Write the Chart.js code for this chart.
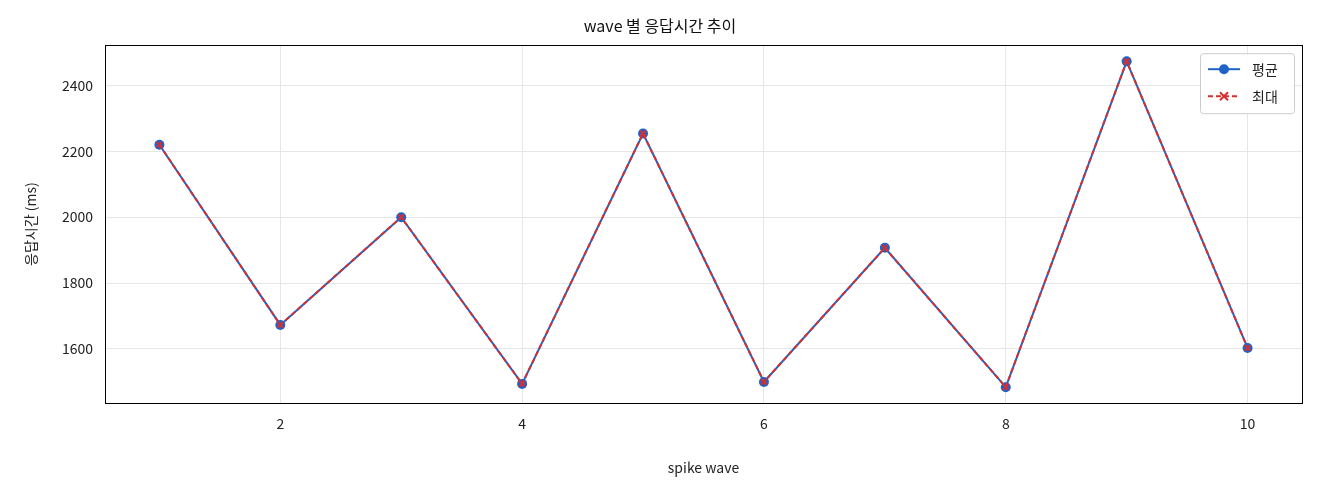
<!DOCTYPE html>
<html><head><meta charset="utf-8">
<script src="https://cdn.jsdelivr.net/npm/chart.js@4/dist/chart.umd.min.js"></script>
<style>html,body{margin:0;background:#fff}#w{width:1320px;height:480px}</style>
</head><body><div id="w"><canvas id="c" width="1320" height="480"></canvas></div>
<script>
const waves = [1,2,3,4,5,6,7,8,9,10];
const avgVals = [2220,1673,2000,1494,2254,1500,1907,1484,2473,1603];
const maxVals = [2220,1673,2000,1494,2254,1500,1907,1484,2473,1603];
const xTicks = [2,4,6,8,10];
const yTicks = [1600,1800,2000,2200,2400];
const F = "'Noto Sans CJK KR','Noto Sans',sans-serif";
const BLUE = '#1f63c6', RED = '#d62f2f';
const legendPlugin = {
  id:'lg',
  afterDraw(ch){
    const c=ch.ctx, a=ch.chartArea;
    c.save();
    c.strokeStyle='#000';c.lineWidth=1;
    c.strokeRect(Math.round(a.left)+0.5,Math.round(a.top)+0.5,Math.round(a.right-a.left),Math.round(a.bottom-a.top));
    const w=94,h=60,x=a.right-w-8,y=a.top+8;
    c.fillStyle='rgba(255,255,255,0.9)';c.strokeStyle='#ccc';
    c.beginPath();c.roundRect(x+0.5,y+0.5,w,h,3);c.fill();c.stroke();
    const items=[{t:'평균',col:BLUE,dash:[],m:'o'},{t:'최대',col:RED,dash:[5,3],m:'x'}];
    items.forEach((it,i)=>{
      const yy=y+16+i*27;
      c.strokeStyle=it.col;c.lineWidth=2;c.setLineDash(it.dash);
      c.beginPath();c.moveTo(x+8,yy);c.lineTo(x+40,yy);c.stroke();c.setLineDash([]);
      if(it.m==='o'){c.fillStyle=it.col;c.beginPath();c.arc(x+24,yy,5,0,Math.PI*2);c.fill();}
      else{c.beginPath();c.moveTo(x+20,yy-4);c.lineTo(x+28,yy+4);c.moveTo(x+28,yy-4);c.lineTo(x+20,yy+4);c.stroke();}
      c.fillStyle='#222';c.font='14px '+F;c.textBaseline='middle';c.fillText(it.t,x+52,yy);
    });
    c.restore();
  }
};
new Chart(document.getElementById('c'),{
  type:'line',
  data:{datasets:[
    {label:'평균',order:2,data:waves.map((w,i)=>({x:w,y:avgVals[i]})),borderColor:BLUE,backgroundColor:BLUE,borderWidth:2,pointRadius:5,pointStyle:'circle',pointBorderWidth:0},
    {label:'최대',order:1,data:waves.map((w,i)=>({x:w,y:maxVals[i]})),borderColor:RED,backgroundColor:RED,borderWidth:2,borderDash:[5,3],pointRadius:4,pointStyle:'crossRot',pointBorderWidth:2}
  ]},
  plugins:[legendPlugin],
  options:{responsive:false,animation:false,
    layout:{padding:{left:18,right:18,top:0,bottom:0}},
    plugins:{legend:{display:false},tooltip:{enabled:false},
      title:{display:true,text:'wave 별 응답시간 추이',color:'#111',font:{family:F,size:16,weight:'normal'},padding:{top:16,bottom:10}}},
    scales:{
      x:{type:'linear',min:0.55,max:10.45,afterBuildTicks(s){s.ticks=xTicks.map(v=>({value:v}));},
        grid:{color:'#e6e6e6',drawTicks:false},border:{color:'#000'},
        ticks:{color:'#222',font:{family:F,size:14},padding:12,callback:v=>String(v)},
        title:{display:true,text:'spike wave',color:'#222',font:{family:F,size:14},padding:{top:4}},
        afterFit(s){s.height=77;}},
      y:{min:1436,max:2522,afterBuildTicks(s){s.ticks=yTicks.map(v=>({value:v}));},
        grid:{color:'#e6e6e6',drawTicks:false},border:{color:'#000'},
        ticks:{color:'#222',font:{family:F,size:14},padding:12,callback:v=>String(v)},
        title:{display:true,text:'응답시간 (ms)',color:'#222',font:{family:F,size:14}},
        afterFit(s){s.width=87;}}
    }}
});
</script></body></html>
